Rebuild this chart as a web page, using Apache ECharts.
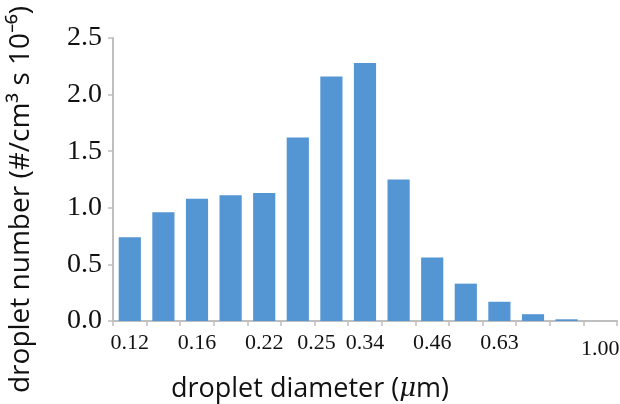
<!DOCTYPE html>
<html>
<head>
<meta charset="utf-8">
<script src="https://cdn.jsdelivr.net/npm/echarts@6/dist/echarts.min.js"></script>
<style>
  html, body { margin: 0; padding: 0; background: #fff; }
  #chart { width: 620px; height: 404px; }
</style>
</head>
<body>
<div id="chart"></div>
<script>
// one entry per size bin, the last bin is empty
var bins = ['b1', 'b2', 'b3', 'b4', 'b5', 'b6', 'b7', 'b8', 'b9', 'b10', 'b11', 'b12', 'b13', 'b14', 'b15']
var dropletNumber = [0.74, 0.96, 1.08, 1.11, 1.13, 1.62, 2.16, 2.28, 1.25, 0.56, 0.33, 0.17, 0.06, 0.015, 0]
// diameter labels under some of the bins
var tickLabels = ['0.12', '', '0.16', '', '0.22', '', '0.25', '0.34', '', '0.46', '', '0.63', '', '', '1.00']

var chart = echarts.init(document.getElementById('chart'))

var serif = { fontFamily: 'Liberation Serif', fontSize: 22, color: '#111' }

var option = {
  animation: false,
  grid: { left: 113, right: 3, top: 38, bottom: 83, outerBoundsMode: 'none', containLabel: false },
  xAxis: {
    type: 'category',
    data: bins,
    axisLine: { lineStyle: { color: '#bfbfbf', width: 2 } },
    axisTick: { show: true, length: 5, lineStyle: { color: '#bfbfbf', width: 1.5 } },
    axisLabel: {
      interval: 0,
      margin: 11,
      fontFamily: 'Liberation Serif',
      fontSize: 22,
      color: '#111',
      formatter: function (v, i) {
        var t = tickLabels[i]
        if (!t) return ''
        if (t === '0.25') return '{shift|' + t + '}'
        if (t === '1.00') return '{low|' + t + '}'
        return '{n|' + t + '}'
      },
      rich: {
        n: serif,
        shift: Object.assign({}, serif, { padding: [0, 30, 0, 0] }),
        low: Object.assign({}, serif, { padding: [6, 0, 0, 0] })
      }
    },
    name: '{a|droplet diameter (}{b|μ}{a|m)}',
    nameLocation: 'middle',
    nameGap: 55,
    nameTextStyle: {
      padding: [0, 110, 0, 0],
      rich: {
        a: { fontFamily: 'Open Sans', fontSize: 27, color: '#111' },
        b: { fontFamily: 'DejaVu Serif', fontStyle: 'italic', fontSize: 26, color: '#111' }
      }
    }
  },
  yAxis: {
    type: 'value',
    min: 0,
    max: 2.5,
    interval: 0.5,
    axisLine: { show: true, lineStyle: { color: '#bfbfbf', width: 2 } },
    axisTick: { show: true, length: 5, lineStyle: { color: '#bfbfbf', width: 1.5 } },
    splitLine: { show: false },
    axisLabel: {
      margin: 11,
      fontFamily: 'Liberation Serif',
      fontSize: 28,
      color: '#111',
      formatter: function (v) { return v.toFixed(1) }
    },
    name: 'droplet number (#/cm³ s 10⁻⁶)',
    nameLocation: 'middle',
    nameGap: 78,
    nameTextStyle: { fontFamily: 'Open Sans', fontSize: 28, color: '#111', padding: [0, 40, 0, 0] }
  },
  series: [
    {
      type: 'bar',
      data: dropletNumber,
      barCategoryGap: '34%',
      itemStyle: { color: '#5495d3' }
    }
  ]
}

chart.setOption(option)
</script>
</body>
</html>
